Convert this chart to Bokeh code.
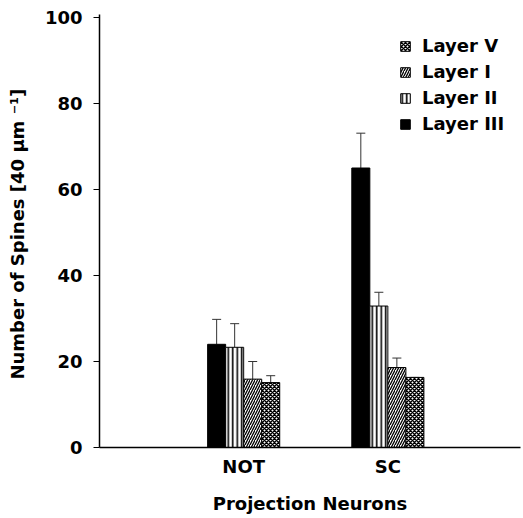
from bokeh.plotting import figure
from bokeh.models import (ColumnDataSource, Whisker, TeeHead, Legend, LegendItem,
                          FixedTicker, Range1d)
from bokeh.embed import file_html
from bokeh.resources import INLINE

# ---- data ----
groups = ["NOT", "SC"]
group_pos = [1, 2]
layer3 = [24.0, 65.0]
err3 = [5.8, 8.1]
layer2 = [23.3, 32.9]
err2 = [5.5, 3.2]
layer1 = [15.9, 18.6]
err1 = [4.1, 2.2]
layer5 = [15.1, 16.3]
err5 = [1.6, 0.0]
y_ticks = [0, 20, 40, 60, 80, 100]

series = [
    ("Layer III", layer3, err3, dict(fill_color="black")),
    ("Layer II", layer2, err2, dict(fill_color="white", hatch_pattern="|", hatch_scale=4.5,
                                    hatch_weight=1.6, hatch_color="black")),
    ("Layer I", layer1, err1, dict(fill_color="white", hatch_pattern="/", hatch_scale=5,
                                   hatch_weight=1.3, hatch_color="black")),
    ("Layer V", layer5, err5, dict(fill_color="white", hatch_pattern="x", hatch_scale=4,
                                   hatch_weight=1.5, hatch_color="black")),
]

FONT = "DejaVu Sans"
FS = "18px"
bw = 0.125

p = figure(width=523, height=518, output_backend="svg", toolbar_location=None,
           x_range=Range1d(0, 2.92), y_range=Range1d(0, 100.7),
           min_border_left=99, min_border_right=3, min_border_top=14, min_border_bottom=71)
p.outline_line_color = None
p.xgrid.visible = False
p.ygrid.visible = False
p.background_fill_color = "white"
p.border_fill_color = "white"

renderers = {}
for i, (name, vals, errs, style) in enumerate(series):
    off = (i - 1.5) * bw
    xs = [g + off for g in group_pos]
    src = ColumnDataSource(dict(x=xs, top=vals, upper=[v + e for v, e in zip(vals, errs)]))
    r = p.vbar(x="x", top="top", width=bw, source=src, line_color="black", line_width=1, **style)
    renderers[name] = r
    w = Whisker(base="x", lower="top", upper="upper", source=src, line_color="#333333",
                line_width=1, upper_head=TeeHead(size=9, line_color="#333333", line_width=1),
                lower_head=None)
    p.add_layout(w)

legend = Legend(items=[LegendItem(label=n, renderers=[renderers[n]])
                       for n in ["Layer V", "Layer I", "Layer II", "Layer III"]],
                location=(300, 313), margin=0, padding=0, spacing=5,
                glyph_width=12, glyph_height=12, label_height=21, label_standoff=11,
                border_line_color=None, background_fill_alpha=0,
                label_text_font=FONT, label_text_font_style="bold",
                label_text_font_size=FS, label_text_color="black")
p.add_layout(legend)

# y axis
ya = p.yaxis[0]
ya.ticker = FixedTicker(ticks=y_ticks)
ya.minor_tick_line_color = None
ya.major_tick_out = 6
ya.major_tick_in = 0
ya.major_tick_line_width = 1.2
ya.axis_line_width = 1.5
ya.axis_line_color = "black"
ya.major_label_standoff = 11
ya.major_label_text_font = FONT
ya.major_label_text_font_style = "bold"
ya.major_label_text_font_size = FS
ya.major_label_text_color = "black"
ya.axis_label = "Number of Spines  [40 µm ⁻¹]"
ya.axis_label_text_font = FONT
ya.axis_label_text_font_style = "bold"
ya.axis_label_text_font_size = FS
ya.axis_label_text_color = "black"
ya.axis_label_standoff = 14

# x axis
xa = p.xaxis[0]
xa.ticker = FixedTicker(ticks=group_pos)
xa.major_label_overrides = {g: lab for g, lab in zip(group_pos, groups)}
xa.minor_tick_line_color = None
xa.major_tick_out = 0
xa.major_tick_in = 0
xa.axis_line_width = 1.5
xa.axis_line_color = "black"
xa.major_label_standoff = 8
xa.major_label_text_font = FONT
xa.major_label_text_font_style = "bold"
xa.major_label_text_font_size = FS
xa.major_label_text_color = "black"
xa.axis_label = "Projection Neurons"
xa.axis_label_text_font = FONT
xa.axis_label_text_font_style = "bold"
xa.axis_label_text_font_size = FS
xa.axis_label_text_color = "black"
xa.axis_label_standoff = 13

open("out.html", "w").write(file_html(p, INLINE))
